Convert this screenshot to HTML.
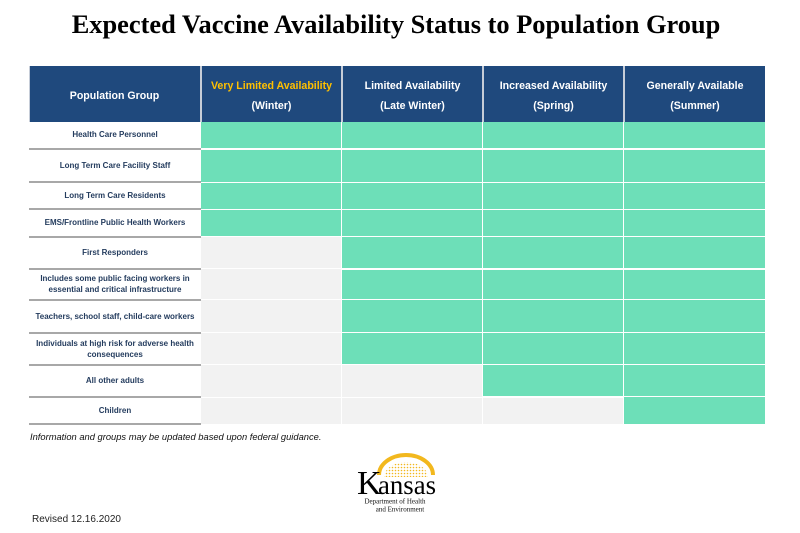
<!DOCTYPE html>
<html><head><meta charset="utf-8">
<style>
html,body{margin:0;padding:0;background:#fff;}
body{width:800px;height:533px;position:relative;overflow:hidden;font-family:"Liberation Sans",Arial,sans-serif;}
.abs{position:absolute;}
.title{left:-4px;width:800px;top:8px;text-align:center;font-family:"Liberation Serif","Times New Roman",serif;font-weight:bold;font-size:26.4px;line-height:32px;color:#000;white-space:nowrap;}
.hdr{background:#1f497d;}
.hsep{background:#c6cdd8;width:2px;}
.htxt{color:#fff;font-weight:bold;font-size:10.6px;line-height:19.5px;text-align:center;display:flex;align-items:center;justify-content:center;flex-direction:column;}
.lab{left:29px;width:172px;display:flex;align-items:center;justify-content:center;text-align:center;color:#243c5e;font-weight:bold;font-size:8px;line-height:10.7px;}
.ln{left:29px;width:172px;height:2px;background:#a8a8a8;}
</style></head><body>
<div class="abs title">Expected Vaccine Availability Status to Population Group</div>

<!-- header -->
<div class="abs hdr" style="left:29px;top:66px;width:736px;height:56px;"></div>
<div class="abs" style="left:29px;top:66px;width:1px;height:56px;background:#c6cdd8;"></div>
<div class="abs hsep" style="left:200px;top:66px;height:56px;"></div>
<div class="abs hsep" style="left:341px;top:66px;height:56px;"></div>
<div class="abs hsep" style="left:482px;top:66px;height:56px;"></div>
<div class="abs hsep" style="left:623px;top:66px;height:56px;"></div>
<div class="abs htxt" style="left:29px;top:68px;width:171px;height:57px;">Population Group</div>
<div class="abs htxt" style="left:202px;top:68px;width:139px;height:57px;"><span style="color:#ffc000">Very Limited Availability</span><span>(Winter)</span></div>
<div class="abs htxt" style="left:343px;top:68px;width:139px;height:57px;"><span>Limited Availability</span><span>(Late Winter)</span></div>
<div class="abs htxt" style="left:484px;top:68px;width:139px;height:57px;"><span>Increased Availability</span><span>(Spring)</span></div>
<div class="abs htxt" style="left:625px;top:68px;width:140px;height:57px;"><span>Generally Available</span><span>(Summer)</span></div>

<!-- cells -->
<svg class="abs" style="left:0;top:0" width="800" height="533">
<g shape-rendering="crispEdges">
<rect x="201" y="122" width="140" height="26" fill="#6ddfb8"/><rect x="342" y="122" width="140" height="26" fill="#6ddfb8"/><rect x="483" y="122" width="140" height="26" fill="#6ddfb8"/><rect x="624" y="122" width="141" height="26" fill="#6ddfb8"/>
<rect x="201" y="150" width="140" height="32" fill="#6ddfb8"/><rect x="342" y="150" width="140" height="32" fill="#6ddfb8"/><rect x="483" y="150" width="140" height="32" fill="#6ddfb8"/><rect x="624" y="150" width="141" height="32" fill="#6ddfb8"/>
<rect x="201" y="183" width="140" height="26" fill="#6ddfb8"/><rect x="342" y="183" width="140" height="26" fill="#6ddfb8"/><rect x="483" y="183" width="140" height="26" fill="#6ddfb8"/><rect x="624" y="183" width="141" height="26" fill="#6ddfb8"/>
<rect x="201" y="210" width="140" height="26" fill="#6ddfb8"/><rect x="342" y="210" width="140" height="26" fill="#6ddfb8"/><rect x="483" y="210" width="140" height="26" fill="#6ddfb8"/><rect x="624" y="210" width="141" height="26" fill="#6ddfb8"/>
<rect x="201" y="237" width="140" height="31" fill="#f2f2f2"/><rect x="342" y="237" width="140" height="31" fill="#6ddfb8"/><rect x="483" y="237" width="140" height="31" fill="#6ddfb8"/><rect x="624" y="237" width="141" height="31" fill="#6ddfb8"/>
<rect x="201" y="269" width="140" height="30" fill="#f2f2f2"/><rect x="342" y="270" width="140" height="29" fill="#6ddfb8"/><rect x="483" y="270" width="140" height="29" fill="#6ddfb8"/><rect x="624" y="270" width="141" height="29" fill="#6ddfb8"/>
<rect x="201" y="300" width="140" height="32" fill="#f2f2f2"/><rect x="342" y="300" width="140" height="32" fill="#6ddfb8"/><rect x="483" y="300" width="140" height="32" fill="#6ddfb8"/><rect x="624" y="300" width="141" height="32" fill="#6ddfb8"/>
<rect x="201" y="333" width="140" height="31" fill="#f2f2f2"/><rect x="342" y="333" width="140" height="31" fill="#6ddfb8"/><rect x="483" y="333" width="140" height="31" fill="#6ddfb8"/><rect x="624" y="333" width="141" height="31" fill="#6ddfb8"/>
<rect x="201" y="365" width="140" height="32" fill="#f2f2f2"/><rect x="342" y="365" width="140" height="32" fill="#f2f2f2"/><rect x="483" y="365" width="140" height="31" fill="#6ddfb8"/><rect x="624" y="365" width="141" height="31" fill="#6ddfb8"/>
<rect x="201" y="398" width="140" height="26" fill="#f2f2f2"/><rect x="342" y="398" width="140" height="26" fill="#f2f2f2"/><rect x="483" y="398" width="140" height="26" fill="#f2f2f2"/><rect x="624" y="397" width="141" height="27" fill="#6ddfb8"/>
</g>
</svg>

<!-- row labels -->
<div class="abs lab" style="top:122px;height:27px;">Health Care Personnel</div>
<div class="abs lab" style="top:150px;height:32px;">Long Term Care Facility Staff</div>
<div class="abs lab" style="top:183px;height:26px;">Long Term Care Residents</div>
<div class="abs lab" style="top:210px;height:26px;">EMS/Frontline Public Health Workers</div>
<div class="abs lab" style="top:238px;height:31px;">First Responders</div>
<div class="abs lab" style="top:270px;height:30px;">Includes some public facing workers in<br>essential and critical infrastructure</div>
<div class="abs lab" style="top:301px;height:32px;">Teachers, school staff, child-care workers</div>
<div class="abs lab" style="top:334px;height:31px;">Individuals at high risk for adverse health<br>consequences</div>
<div class="abs lab" style="top:366px;height:31px;">All other adults</div>
<div class="abs lab" style="top:398px;height:26px;">Children</div>

<div class="abs ln" style="top:148px;"></div>
<div class="abs ln" style="top:181px;"></div>
<div class="abs ln" style="top:208px;"></div>
<div class="abs ln" style="top:236px;"></div>
<div class="abs ln" style="top:268px;"></div>
<div class="abs ln" style="top:299px;"></div>
<div class="abs ln" style="top:332px;"></div>
<div class="abs ln" style="top:364px;"></div>
<div class="abs ln" style="top:396px;"></div>
<div class="abs ln" style="top:423px;"></div>

<div class="abs" style="left:30px;top:431px;font-style:italic;font-size:9.35px;line-height:12px;color:#111;white-space:nowrap;">Information and groups may be updated based upon federal guidance.</div>

<!-- logo -->
<svg class="abs" style="left:340px;top:448px" width="110" height="70">
<defs>
<pattern id="dots" width="3" height="3" patternUnits="userSpaceOnUse"><circle cx="1.5" cy="1.5" r="0.8" fill="#f2b81e"/></pattern>
</defs>
<path d="M39 27 A27 20 0 0 1 93 27" fill="none" stroke="#f2b81e" stroke-width="4"/>
<path d="M44 29 A22 15 0 0 1 88 29 Z" fill="url(#dots)"/>
<text x="17" y="46" font-family="Liberation Serif,serif" font-size="34" fill="#000">K</text>
<text x="38" y="46" font-family="Liberation Serif,serif" font-size="27" fill="#000" textLength="58" lengthAdjust="spacingAndGlyphs">ansas</text>
<text x="55" y="55.5" text-anchor="middle" font-family="Liberation Serif,serif" font-size="7" fill="#111">Department of Health</text>
<text x="60" y="63.5" text-anchor="middle" font-family="Liberation Serif,serif" font-size="7" fill="#111">and Environment</text>
</svg>

<div class="abs" style="left:32px;top:514px;font-size:10px;line-height:12px;color:#222;white-space:nowrap;">Revised 12.16.2020</div>
</body></html>
